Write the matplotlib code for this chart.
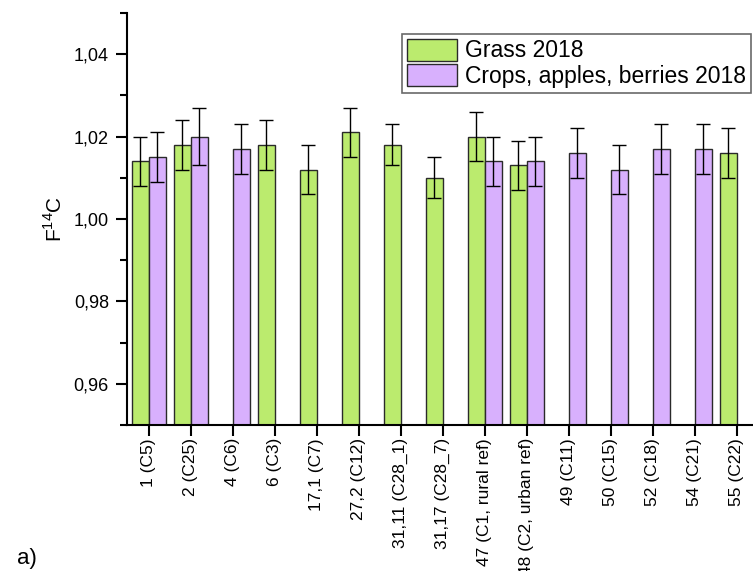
import numpy as np
import matplotlib
matplotlib.use("Agg")
import matplotlib.pyplot as plt
from matplotlib.ticker import MultipleLocator, FuncFormatter

plt.rcParams['font.family'] = ['Liberation Sans', 'DejaVu Sans']
plt.rcParams['mathtext.fontset'] = 'custom'
plt.rcParams['mathtext.rm'] = 'Liberation Sans'

sites = ['1 (C5)', '2 (C25)', '4 (C6)', '6 (C3)', '17,1 (C7)', '27,2 (C12)',
         '31,11 (C28_1)', '31,17 (C28_7)', '47 (C1, rural ref)', '48 (C2, urban ref)',
         '49 (C11)', '50 (C15)', '52 (C18)', '54 (C21)', '55 (C22)']

nan = np.nan
grass = [1.014, 1.018, nan, 1.018, 1.012, 1.021, 1.018, 1.010, 1.020, 1.013,
         nan, nan, nan, nan, 1.016]
grass_err = [0.006, 0.006, nan, 0.006, 0.006, 0.006, 0.005, 0.005, 0.006, 0.006,
             nan, nan, nan, nan, 0.006]
crops = [1.015, 1.020, 1.017, nan, nan, nan, nan, nan, 1.014, 1.014,
         1.016, 1.012, 1.017, 1.017, nan]
crops_err = [0.006, 0.007, 0.006, nan, nan, nan, nan, nan, 0.006, 0.006,
             0.006, 0.006, 0.006, 0.006, nan]

fig = plt.figure(figsize=(7.53, 5.71), dpi=100)
ax = fig.add_axes([0.1687, 0.2557, 0.8322, 0.7215])

x = np.arange(len(sites))
w = 0.4
err_kw = dict(ecolor='black', elinewidth=1, capsize=5, capthick=1)
ax.bar(x - w / 2, grass, w, yerr=grass_err, color='#bbeb6e', edgecolor='#2a2a2a',
       linewidth=1, error_kw=err_kw, label='Grass 2018')
ax.bar(x + w / 2, crops, w, yerr=crops_err, color='#d8b0fd', edgecolor='#2a2a2a',
       linewidth=1, error_kw=err_kw, label='Crops, apples, berries 2018')

ax.set_xlim(-0.52, 14.4)
ax.set_ylim(0.95, 1.05)
ax.yaxis.set_major_locator(MultipleLocator(0.02))
ax.yaxis.set_minor_locator(MultipleLocator(0.01))
ax.yaxis.set_major_formatter(FuncFormatter(lambda v, p: f"{v:.2f}".replace('.', ',')))
ax.set_xticks(x)
ax.set_xticklabels(sites, rotation=90, fontsize=12.5)

for s in ['top', 'right']:
    ax.spines[s].set_visible(False)
for s in ['left', 'bottom']:
    ax.spines[s].set_linewidth(1.5)
ax.tick_params(axis='y', which='major', direction='out', length=8, width=1.5,
               labelsize=13, pad=5)
ax.tick_params(axis='y', which='minor', direction='out', length=5, width=1.5)
ax.tick_params(axis='x', which='major', direction='out', length=8, width=1.5, pad=1.5)

ax.set_ylabel('F$^{14}$C', fontsize=15, labelpad=6)

leg = ax.legend(loc='upper left', bbox_to_anchor=(402 / 753, 1 - 34 / 571),
                bbox_transform=fig.transFigure, fontsize=16.5, frameon=True,
                fancybox=False, edgecolor='#444444', handlelength=2.2,
                handleheight=1.1, handletextpad=0.35, borderpad=0.2,
                labelspacing=0.08, borderaxespad=0)
leg.get_frame().set_linewidth(1.2)

fig.text(17 / 753, 0.012, 'a)', fontsize=16)

fig.savefig('out.png', dpi=100)
